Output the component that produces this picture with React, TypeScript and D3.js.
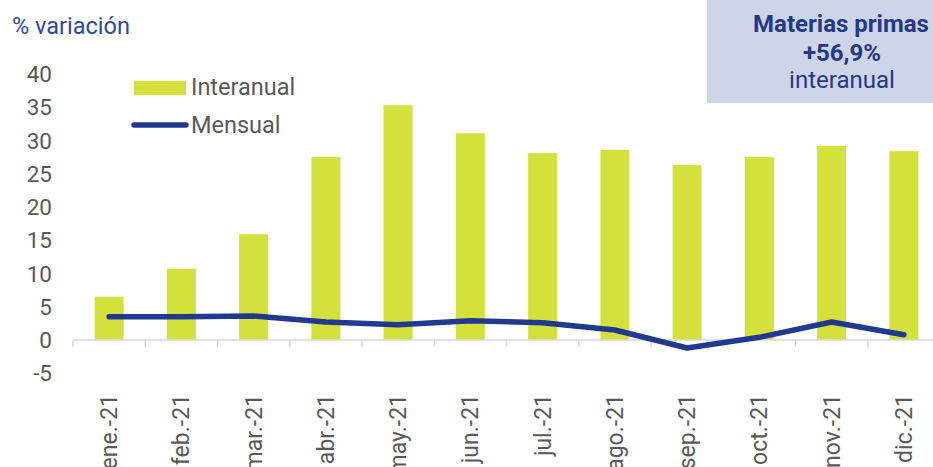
import React from "react";
import * as d3 from "d3";

const categories = ["ene.-21", "feb.-21", "mar.-21", "abr.-21", "may.-21", "jun.-21", "jul.-21", "ago.-21", "sep.-21", "oct.-21", "nov.-21", "dic.-21"];
const interanual = [6.5, 10.7, 15.9, 27.5, 35.3, 31.1, 28.1, 28.6, 26.3, 27.5, 29.2, 28.4];
const mensual = [3.5, 3.5, 3.6, 2.7, 2.3, 2.9, 2.6, 1.5, -1.2, 0.4, 2.7, 0.8];
const yTicks = [-5, 0, 5, 10, 15, 20, 25, 30, 35, 40];

const W = 933, H = 467;
const font = "Roboto, 'Noto Sans', sans-serif";

export default function App() {
  const xStep = d3.scaleBand<string>().domain(categories).range([73, 940]);
  const y = d3.scaleLinear().domain([-5, 40]).range([373.25, 74]);
  const line = d3.line<number>()
    .x((_, i) => (xStep(categories[i]) as number) + xStep.bandwidth() / 2)
    .y((d) => y(d));
  const bw = 29;
  return (
    <svg width={W} height={H} style={{ position: "absolute", left: 0, top: 0, background: "#fff" }}>
      <text x={12} y={34} fontFamily={font} fontSize={23.5} fill="#2e4a9e">% variación</text>
      {yTicks.map((t) => (
        <text key={t} x={52} y={y(t) + 8} textAnchor="end" fontFamily={font} fontSize={22.5} fill="#595959">{t}</text>
      ))}
      {categories.map((c, i) => {
        const cx = (xStep(c) as number) + xStep.bandwidth() / 2;
        return (
          <rect key={c} x={cx - bw / 2} y={y(interanual[i])} width={bw} height={y(0) - y(interanual[i])} fill="#d4e03b" />
        );
      })}
      <line x1={73} x2={940} y1={y(0)} y2={y(0)} stroke="#d9d9d9" strokeWidth={1.5} />
      {categories.map((c) => (
        <line key={"t" + c} x1={xStep(c) as number} x2={xStep(c) as number} y1={y(0)} y2={y(0) + 7} stroke="#d9d9d9" strokeWidth={1.5} />
      ))}
      <path d={line(mensual) || ""} fill="none" stroke="#213a8f" strokeWidth={5.5} strokeLinejoin="round" strokeLinecap="round" />
      {categories.map((c) => {
        const cx = (xStep(c) as number) + xStep.bandwidth() / 2;
        return (
          <text key={"l" + c} transform={`translate(${cx + 8},394) rotate(-90)`} textAnchor="end" fontFamily={font} fontSize={23} fill="#595959">{c}</text>
        );
      })}
      <rect x={134} y={81} width={52} height={14} fill="#d4e03b" />
      <text x={191} y={95} fontFamily={font} fontSize={23.5} fill="#595959">Interanual</text>
      <line x1={134} x2={186} y1={125} y2={125} stroke="#213a8f" strokeWidth={5.5} strokeLinecap="round" />
      <text x={191} y={133} fontFamily={font} fontSize={23.5} fill="#595959">Mensual</text>
      <rect x={707} y={0} width={226} height={103} fill="#cfd5e8" />
      <text x={841} y={32} textAnchor="middle" fontFamily={font} fontSize={24} fontWeight="bold" fill="#22398a">Materias primas</text>
      <text x={842} y={61} textAnchor="middle" fontFamily={font} fontSize={24} fontWeight="bold" fill="#22398a">+56,9%</text>
      <text x={842} y={88} textAnchor="middle" fontFamily={font} fontSize={24} fill="#22398a">interanual</text>
    </svg>
  );
}
